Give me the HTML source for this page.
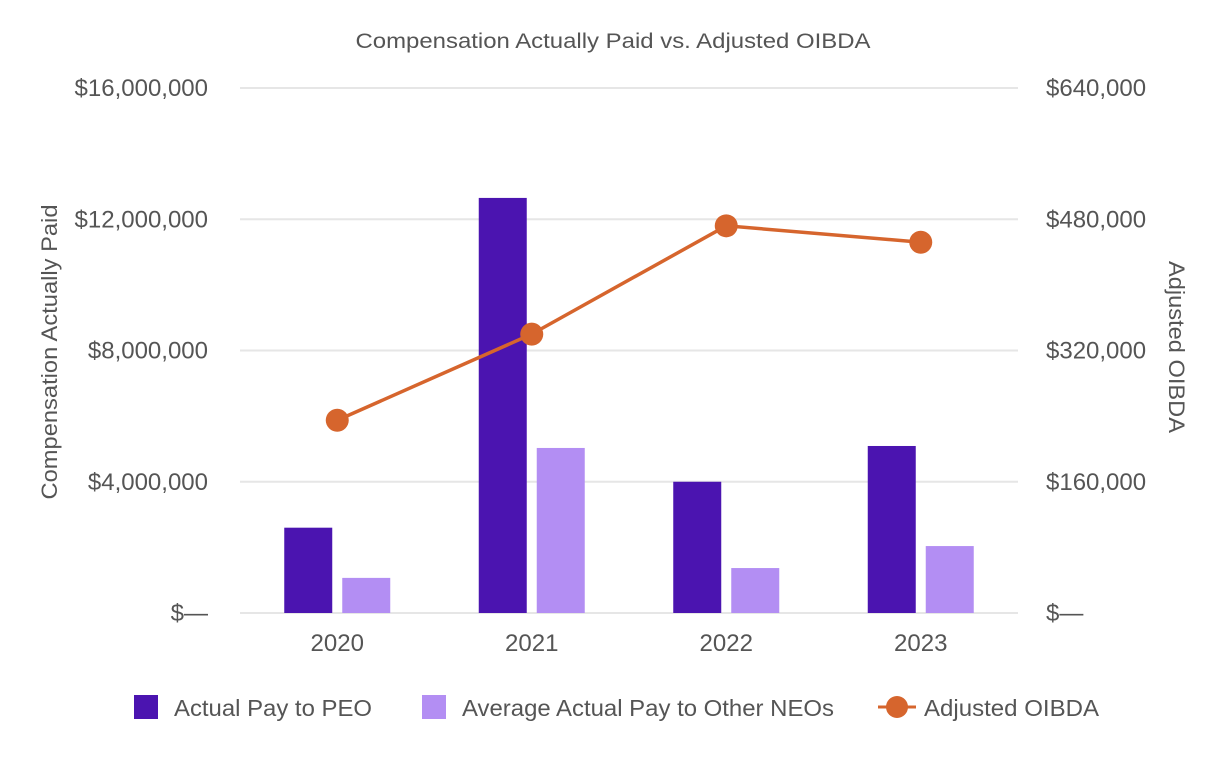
<!DOCTYPE html>
<html><head><meta charset="utf-8"><style>
body{margin:0;background:#fff;}
svg text{font-family:"Liberation Sans",Arial,sans-serif;fill:#555;}
</style></head><body>
<svg id="chart" width="1226" height="760" xmlns="http://www.w3.org/2000/svg">
<text x="613" y="48" font-size="21" text-anchor="middle" textLength="515" lengthAdjust="spacingAndGlyphs">Compensation Actually Paid vs. Adjusted OIBDA</text>
<g id="grid"></g><g id="bars"></g><g id="line"></g><g id="axes"></g>
<text transform="translate(57,352) rotate(-90)" font-size="22" text-anchor="middle" textLength="295" lengthAdjust="spacingAndGlyphs">Compensation Actually Paid</text>
<text transform="translate(1169,347) rotate(90)" font-size="22" text-anchor="middle" textLength="172" lengthAdjust="spacingAndGlyphs">Adjusted OIBDA</text>
<g>
<rect x="134" y="695" width="24" height="24" fill="#4b14b0"/>
<text x="174" y="716" font-size="23" textLength="198" lengthAdjust="spacingAndGlyphs">Actual Pay to PEO</text>
<rect x="422" y="695" width="24" height="24" fill="#b38ef3"/>
<text x="462" y="716" font-size="23" textLength="372" lengthAdjust="spacingAndGlyphs">Average Actual Pay to Other NEOs</text>
<line x1="878" y1="707" x2="916" y2="707" stroke="#d6652d" stroke-width="3"/>
<circle cx="897" cy="707" r="11" fill="#d6652d"/>
<text x="924" y="716" font-size="23" textLength="175" lengthAdjust="spacingAndGlyphs">Adjusted OIBDA</text>
</g>
</svg>
<script>
const categories=["2020","2021","2022","2023"];
const peoPay=[2600000,12650000,4000000,5090000];
const neoPay=[1070000,5030000,1370000,2040000];
const oibda=[235000,340000,472000,452000];
const leftTicks=[0,4000000,8000000,12000000,16000000];
const leftTickLabels=["$—","$4,000,000","$8,000,000","$12,000,000","$16,000,000"];
const rightTicks=[0,160000,320000,480000,640000];
const rightTickLabels=["$—","$160,000","$320,000","$480,000","$640,000"];

const NS="http://www.w3.org/2000/svg";
const x0=240,x1=1018,yTop=88,yBot=613;
const yL=v=>yBot-(v/16000000)*(yBot-yTop);
const yR=v=>yBot-(v/640000)*(yBot-yTop);
const band=(x1-x0)/categories.length;
const xc=i=>x0+band*(i+0.5);
function mk(tag,attrs,parent){const e=document.createElementNS(NS,tag);for(const k in attrs)e.setAttribute(k,attrs[k]);document.getElementById(parent).appendChild(e);return e;}
leftTicks.forEach((t,i)=>{
  const g=mk("line",{x1:x0,x2:x1,y1:yL(t),y2:yL(t),stroke:"#e6e6e6","stroke-width":2},"grid");
  
  
  const a=mk("text",{x:208,y:yL(t)+8,"font-size":24,"text-anchor":"end"},"axes");a.textContent=leftTickLabels[i];
  
  
});
rightTicks.forEach((t,i)=>{
  const a=mk("text",{x:1046,y:yR(t)+8,"font-size":24,"text-anchor":"start"},"axes");a.textContent=rightTickLabels[i];
  
  
});
categories.forEach((c,i)=>{
  const a=mk("text",{x:xc(i),y:651,"font-size":24,"text-anchor":"middle"},"axes");a.textContent=c;
  
  
  const b1=mk("rect",{x:xc(i)-53,y:yL(peoPay[i]),width:48,height:yBot-yL(peoPay[i]),fill:"#4b14b0"},"bars");
  
  
  const b2=mk("rect",{x:xc(i)+5,y:yL(neoPay[i]),width:48,height:yBot-yL(neoPay[i]),fill:"#b38ef3"},"bars");
  
  
});
const pl=mk("polyline",{points:oibda.map((v,i)=>xc(i)+","+yR(v)).join(" "),fill:"none",stroke:"#d6652d","stroke-width":3.5},"line");


oibda.forEach((v,i)=>{
  const p=mk("circle",{cx:xc(i),cy:yR(v),r:11.5,fill:"#d6652d"},"line");
  
  
});
</script>
</body></html>
